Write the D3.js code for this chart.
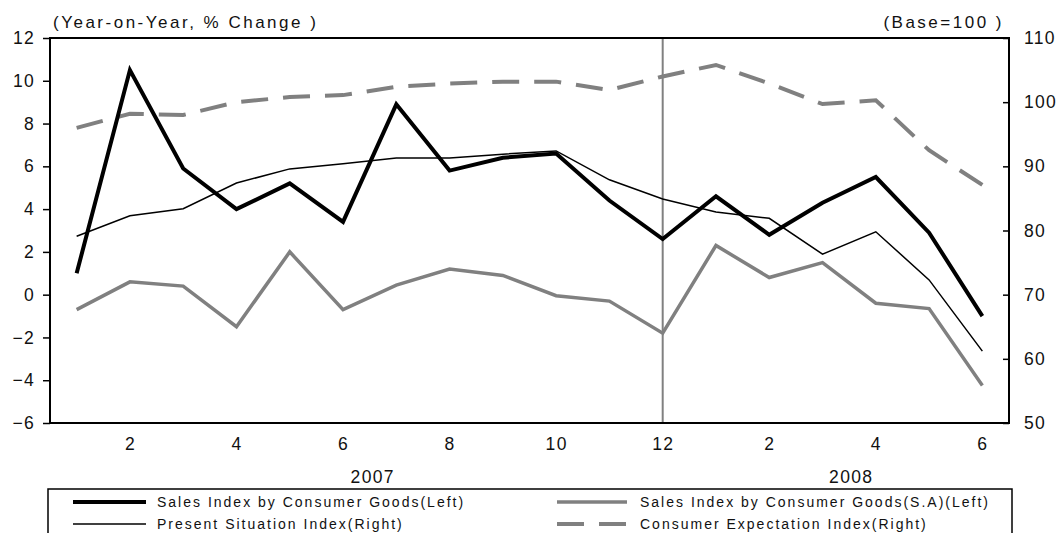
<!DOCTYPE html>
<html><head><meta charset="utf-8">
<script src="https://cdn.jsdelivr.net/npm/d3@7"></script>
<style>
html,body{margin:0;padding:0;background:#fff;}
svg{display:block;}
text{font-family:"Liberation Sans",Arial,sans-serif;fill:#111;}
</style></head>
<body>
<svg id="c" width="1061" height="533"></svg>
<script>
const months = ["1","2","3","4","5","6","7","8","9","10","11","12","1","2","3","4","5","6"];
const tickLabels = ["2","4","6","8","10","12","2","4","6"];
const years = ["2007","2008"];
const salesIndex = [1.0,10.5,5.9,4.0,5.2,3.4,8.9,5.8,6.4,6.6,4.4,2.6,4.6,2.8,4.3,5.5,2.9,-1.0];
const salesIndexSA = [-0.7,0.6,0.4,-1.5,2.0,-0.7,0.45,1.2,0.9,-0.05,-0.3,-1.8,2.3,0.8,1.5,-0.4,-0.65,-4.25];
const presentSituation = [79.1,82.3,83.4,87.4,89.6,90.4,91.3,91.3,91.9,92.4,87.9,84.9,82.9,81.9,76.3,79.8,72.3,61.2];
const consumerExpectation = [96.0,98.2,98.0,100.0,100.8,101.1,102.4,102.9,103.2,103.2,101.9,104.0,105.8,102.9,99.7,100.3,92.5,87.1];
const leftTicks = [12,10,8,6,4,2,0,-2,-4,-6];
const rightTicks = [110,100,90,80,70,60,50];
const legendItems = [
  {label:"Sales Index by Consumer Goods(Left)", key:"sales"},
  {label:"Sales Index by Consumer Goods(S.A)(Left)", key:"sa"},
  {label:"Present Situation Index(Right)", key:"present"},
  {label:"Consumer Expectation Index(Right)", key:"expect"}
];

const styles = {
  sales:{stroke:"#000", width:4, dash:null},
  sa:{stroke:"#808080", width:3.5, dash:null},
  present:{stroke:"#000", width:1.5, dash:null},
  expect:{stroke:"#808080", width:4, dash:"27,15"}
};

const FONT = '"Liberation Sans",Arial,sans-serif';
const svg = d3.select("#c");
const L = 50, R = 1009, T = 38, B = 423;
const idx = d3.range(months.length);
const x = d3.scalePoint().domain(idx).range([L, R]).padding(0.5);
const yL = d3.scaleLinear().domain([-6, 12]).range([B, T]);
const yR = d3.scaleLinear().domain([50, 110]).range([B, T]);

// vertical separator at Dec 2007
svg.append("line").attr("x1", x(11)).attr("x2", x(11)).attr("y1", T).attr("y2", B)
  .attr("stroke", "#808080").attr("stroke-width", 2);

// frame
svg.append("rect").attr("x", L).attr("y", T).attr("width", R - L).attr("height", B - T)
  .attr("fill", "none").attr("stroke", "#000").attr("stroke-width", 2);

function styleText(sel) {
  sel.style("font-size", "17.5px").style("letter-spacing", "1.3px").attr("fill", "#111").style("font-family", FONT);
}

// left axis
const gl = svg.append("g").attr("transform", `translate(${L},0)`)
  .call(d3.axisLeft(yL).tickValues(leftTicks).tickSize(7).tickPadding(8).tickFormat(d => d < 0 ? "\u2212" + Math.abs(d) : d));
gl.select(".domain").remove();
gl.selectAll(".tick line").attr("stroke", "#000").attr("stroke-width", 1.5);
styleText(gl.selectAll("text"));

// right axis (ticks inward)
const gr = svg.append("g").attr("transform", `translate(${R},0)`)
  .call(d3.axisRight(yR).tickValues(rightTicks).tickSize(-6).tickPadding(15));
gr.select(".domain").remove();
gr.selectAll(".tick line").attr("stroke", "#000").attr("stroke-width", 1.5);
styleText(gr.selectAll("text"));

// x axis labels (even months)
const xTickIdx = idx.filter(i => (i % 2) === 1);
const gx = svg.append("g").attr("transform", `translate(0,${B})`)
  .call(d3.axisBottom(x).tickValues(xTickIdx).tickSize(0).tickPadding(15).tickFormat((d, i) => tickLabels[i]));
gx.select(".domain").remove();
styleText(gx.selectAll("text"));

// year labels
styleText(svg.append("text").attr("x", (x(5) + x(6)) / 2 + 3).attr("y", 483).attr("text-anchor", "middle").text(years[0]));
styleText(svg.append("text").attr("x", (x(14) + x(15)) / 2 + 2).attr("y", 483).attr("text-anchor", "middle").text(years[1]));

// titles
svg.append("text").attr("x", 53).attr("y", 28).style("font-size", "17px").style("letter-spacing", "2.5px")
  .text("(Year-on-Year, % Change )");
svg.append("text").attr("x", 1004).attr("y", 28).attr("text-anchor", "end").style("font-size", "17px").style("letter-spacing", "2.5px")
  .text("(Base=100 )");

// lines
const lineL = d3.line().x((d, i) => x(i)).y(d => yL(d));
const lineR = d3.line().x((d, i) => x(i)).y(d => yR(d));
function draw(data, gen, st) {
  svg.append("path").datum(data).attr("d", gen).attr("fill", "none")
    .attr("stroke", st.stroke).attr("stroke-width", st.width)
    .attr("stroke-dasharray", st.dash).attr("stroke-linejoin", "miter");
}
draw(consumerExpectation, lineR, styles.expect);
draw(salesIndexSA, lineL, styles.sa);
draw(presentSituation, lineR, styles.present);
draw(salesIndex, lineL, styles.sales);

// legend
svg.append("rect").attr("x", 48).attr("y", 489).attr("width", 964).attr("height", 60)
  .attr("fill", "#fff").attr("stroke", "#000").attr("stroke-width", 1.5);
const legPos = [
  {lx1:73, lx2:146, tx:157, y:502},
  {lx1:557, lx2:627, tx:640, y:502},
  {lx1:73, lx2:146, tx:157, y:524},
  {lx1:557, lx2:627, tx:640, y:524}
];
legendItems.forEach((it, i) => {
  const p = legPos[i], st = styles[it.key];
  svg.append("line").attr("x1", p.lx1).attr("x2", p.lx2).attr("y1", p.y).attr("y2", p.y)
    .attr("stroke", st.stroke).attr("stroke-width", st.width).attr("stroke-dasharray", st.dash);
  svg.append("text").attr("x", p.tx).attr("y", p.y + 5).style("font-size", "14px").style("letter-spacing", "2px")
    .text(it.label);
});
</script>
</body></html>
